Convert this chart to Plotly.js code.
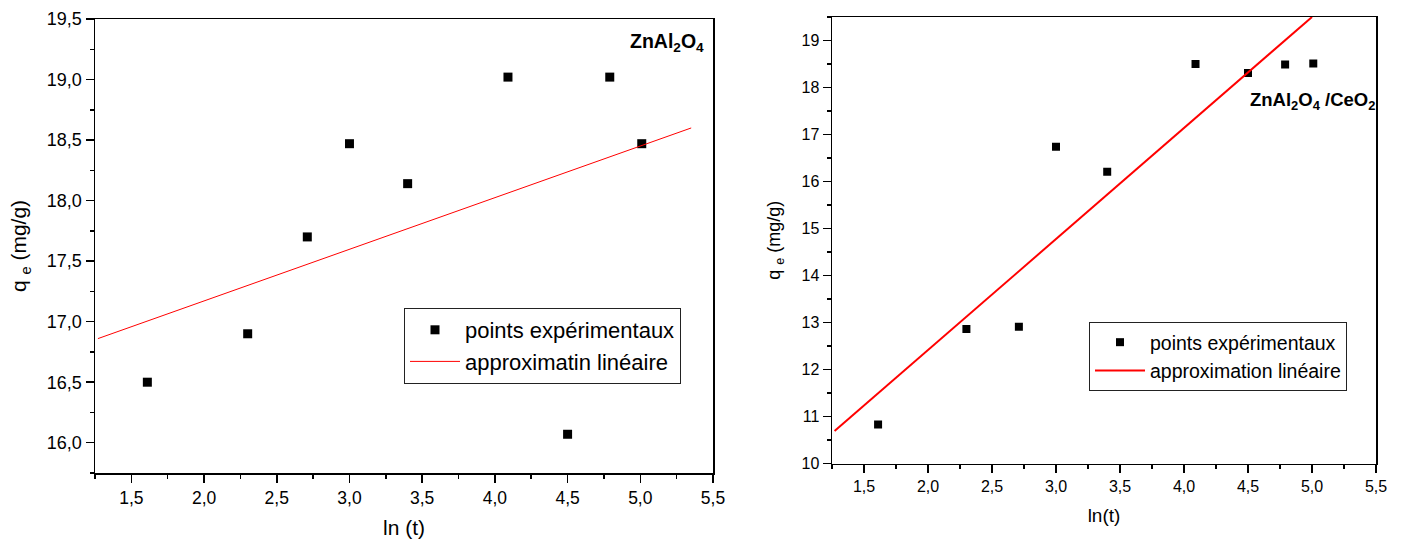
<!DOCTYPE html>
<html>
<head>
<meta charset="utf-8">
<script src="https://cdn.plot.ly/plotly-3.0.1.min.js"></script>
<style>html,body{margin:0;padding:0;background:#fff;}#chart{width:1403px;height:547px;}</style>
</head>
<body>
<div id="chart"></div>
<script>
// ln(t) values (shared by both panels)
const lnT = [1.61, 2.30, 2.71, 3.00, 3.40, 4.09, 4.50, 4.79, 5.01];
// ZnAl2O4 experimental qe (mg/g)
const qeZnAl = [16.50, 16.90, 17.70, 18.47, 18.14, 19.02, 16.07, 19.02, 18.47];
// ZnAl2O4 linear fit end points
const fitZnAlX = [1.27, 5.35];
const fitZnAlY = [16.86, 18.60];
// ZnAl2O4/CeO2 experimental qe (mg/g)
const qeZnCe = [10.83, 12.86, 12.91, 16.74, 16.21, 18.50, 18.31, 18.49, 18.51];
// ZnAl2O4/CeO2 linear fit end points
const fitZnCeX = [1.27, 5.00];
const fitZnCeY = [10.69, 19.50];

const legendNames = ['points expérimentaux', 'approximatin linéaire', 'approximation linéaire'];
const xTitles = ['ln (t)', 'ln(t)'];
const yTitle = 'q <sub>e</sub> (mg/g)';
const labels = ['<b>ZnAl<sub>2</sub>O<sub>4</sub></b>', '<b>ZnAl<sub>2</sub>O<sub>4</sub> /CeO<sub>2</sub></b>'];

const FONT = 'Arial, "Liberation Sans", sans-serif';
const W = 1403, H = 547;

const traces = [
  {x: lnT, y: qeZnAl, type: 'scatter', mode: 'markers', name: legendNames[0],
   marker: {symbol: 'square', size: 9, color: '#000'}, xaxis: 'x', yaxis: 'y', legend: 'legend'},
  {x: fitZnAlX, y: fitZnAlY, type: 'scatter', mode: 'lines', name: legendNames[1],
   line: {color: '#ff0000', width: 1}, xaxis: 'x', yaxis: 'y', legend: 'legend'},
  {x: lnT, y: qeZnCe, type: 'scatter', mode: 'markers', name: legendNames[0],
   marker: {symbol: 'square', size: 8, color: '#000'}, xaxis: 'x2', yaxis: 'y2', legend: 'legend2'},
  {x: fitZnCeX, y: fitZnCeY, type: 'scatter', mode: 'lines', name: legendNames[2],
   line: {color: '#ff0000', width: 2}, xaxis: 'x2', yaxis: 'y2', legend: 'legend2'}
];

function axisBase(fs) {
  return {
    showline: true, mirror: true, linecolor: '#000', linewidth: 1.5,
    ticks: 'outside', ticklen: 8, tickwidth: 1.5, tickcolor: '#000',
    showgrid: false, zeroline: false, automargin: false,
    tickfont: {family: FONT, size: fs, color: '#000'}
  };
}

const layout = {
  width: W, height: H,
  margin: {l: 0, r: 0, t: 0, b: 0},
  paper_bgcolor: '#fff', plot_bgcolor: '#fff',
  separators: ', ',
  font: {family: FONT, color: '#000'},
  xaxis: Object.assign(axisBase(17.5), {
    domain: [95 / W, 713 / W], range: [1.25, 5.5], dtick: 0.5, tick0: 1.5, tickformat: '.1f',
    minor: {dtick: 0.25, ticks: 'outside', ticklen: 4, tickwidth: 1.5, tickcolor: '#000'},
    anchor: 'y',
    title: {text: xTitles[0], font: {family: FONT, size: 21, color: '#000'}, standoff: 14}
  }),
  yaxis: Object.assign(axisBase(18), {
    domain: [1 - 473 / H, 1 - 19 / H], range: [15.75, 19.5], dtick: 0.5, tick0: 16, tickformat: '.1f',
    minor: {dtick: 0.25, ticks: 'outside', ticklen: 4, tickwidth: 1.5, tickcolor: '#000'},
    anchor: 'x',
    title: {text: yTitle, font: {family: FONT, size: 21, color: '#000'}, standoff: 14}
  }),
  xaxis2: Object.assign(axisBase(16), {
    domain: [832 / W, 1376 / W], range: [1.25, 5.5], dtick: 0.5, tick0: 1.5, tickformat: '.1f',
    minor: {dtick: 0.25, ticks: 'outside', ticklen: 4, tickwidth: 1.5, tickcolor: '#000'},
    anchor: 'y2',
    title: {text: xTitles[1], font: {family: FONT, size: 19, color: '#000'}, standoff: 14}
  }),
  yaxis2: Object.assign(axisBase(16), {
    domain: [1 - 463.5 / H, 1 - 17 / H], range: [10, 19.5], dtick: 1, tick0: 10,
    minor: {dtick: 0.5, ticks: 'outside', ticklen: 4, tickwidth: 1.5, tickcolor: '#000'},
    anchor: 'x2',
    title: {text: yTitle, font: {family: FONT, size: 18, color: '#000'}, standoff: 16}
  }),
  legend: {
    x: 404 / W, y: 1 - 308 / H, xanchor: 'left', yanchor: 'top',
    bordercolor: '#222', borderwidth: 1, bgcolor: '#fff',
    font: {family: FONT, size: 22, color: '#000'}, itemwidth: 50, tracegroupgap: 0,
    itemclick: false
  },
  legend2: {
    x: 1089 / W, y: 1 - 322 / H, xanchor: 'left', yanchor: 'top',
    bordercolor: '#222', borderwidth: 1, bgcolor: '#fff',
    font: {family: FONT, size: 19.5, color: '#000'}, itemwidth: 50, tracegroupgap: 0,
    itemclick: false
  },
  showlegend: true,
  annotations: [
    {text: labels[0], xref: 'paper', yref: 'paper', x: 706 / W, y: 1 - 42 / H,
     xanchor: 'right', yanchor: 'middle', showarrow: false,
     font: {family: FONT, size: 19.5, color: '#000'}},
    {text: labels[1], xref: 'paper', yref: 'paper', x: 1377 / W, y: 1 - 101 / H,
     xanchor: 'right', yanchor: 'middle', showarrow: false,
     font: {family: FONT, size: 18.5, color: '#000'}}
  ]
};

Plotly.newPlot('chart', traces, layout, {displayModeBar: false, staticPlot: true});
</script>
</body>
</html>
